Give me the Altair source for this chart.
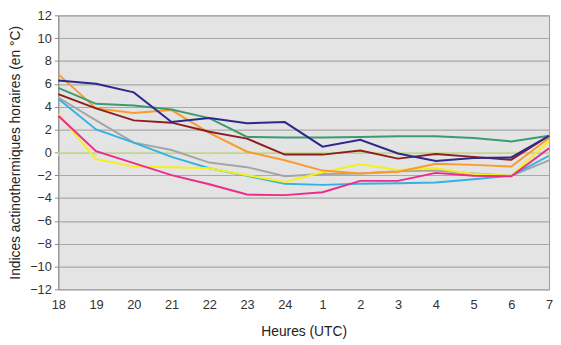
import altair as alt
import pandas as pd

hours = ["18", "19", "20", "21", "22", "23", "24", "1", "2", "3", "4", "5", "6", "7"]

navy = [6.3, 6.0, 5.25, 2.65, 3.0, 2.55, 2.65, 0.5, 1.1, -0.1, -0.75, -0.5, -0.45, 1.45]
green = [5.65, 4.25, 4.1, 3.75, 3.0, 1.35, 1.3, 1.3, 1.35, 1.4, 1.4, 1.25, 0.95, 1.45]
orange = [6.85, 3.85, 3.45, 3.7, 1.7, 0.05, -0.7, -1.6, -1.85, -1.7, -1.0, -1.1, -1.25, 1.25]
brown = [5.1, 3.85, 2.8, 2.6, 1.8, 1.2, -0.2, -0.2, 0.15, -0.55, -0.15, -0.4, -0.65, 1.45]
gray = [4.8, 2.8, 0.85, 0.2, -0.9, -1.3, -2.1, -1.9, -1.85, -1.65, -1.6, -1.85, -2.05, -0.7]
cyan = [4.7, 2.0, 0.85, -0.4, -1.4, -2.05, -2.75, -2.85, -2.75, -2.7, -2.65, -2.35, -2.05, -0.3]
yellow = [3.35, -0.6, -1.25, -1.3, -1.4, -2.0, -2.6, -1.75, -1.05, -1.55, -1.4, -1.9, -2.05, 1.0]
magenta = [3.2, 0.1, -0.95, -2.0, -2.8, -3.7, -3.75, -3.5, -2.5, -2.5, -1.8, -2.05, -2.1, 0.35]

series = {
    "gris": gray,
    "cyan": cyan,
    "jaune": yellow,
    "magenta": magenta,
    "orange": orange,
    "brun": brown,
    "vert": green,
    "bleu": navy,
}
colors = ["#a5a5a5", "#35b3e0", "#f5ef1c", "#ec2b8c", "#f99b2c", "#8e1e1e", "#3c9c70", "#2c2a8e"]

rows = []
for name, vals in series.items():
    for h, v in zip(hours, vals):
        rows.append({"heure": h, "valeur": v, "serie": name})
df = pd.DataFrame(rows)

ticks_df = pd.DataFrame({"heure": hours, "valeur": [0.0] * len(hours), "y1": [-0.35] * len(hours)})
zero_df = pd.DataFrame({"valeur": [0.0]})

font = "Liberation Sans"

x_axis = alt.Axis(
    title="Heures (UTC)",
    labelAngle=0,
    ticks=False,
    domain=False,
    grid=False,
    labelPadding=9,
    titlePadding=14,
    labelFontSize=13,
    titleFontSize=14,
    labelFont=font,
    titleFont=font,
    labelColor="#333333",
    titleColor="#222222",
    titleFontWeight="normal",
)
x_scale = alt.Scale(type="point", padding=0)

y_axis = alt.Axis(
    title="Indices actinothermiques horaires (en °C)",
    values=list(range(-12, 13, 2)),
    labelOverlap=False,
    grid=True,
    gridColor="#a9a9a9",
    gridWidth=1.2,
    domainColor="#8c8c8c",
    tickColor="#8c8c8c",
    tickSize=4,
    labelPadding=3,
    labelFontSize=13,
    titleFontSize=14,
    labelFont=font,
    titleFont=font,
    labelColor="#333333",
    titleColor="#222222",
    titleFontWeight="normal",
    titlePadding=7,
)
y_scale = alt.Scale(domain=[-12, 12], nice=False, zero=False)

lines = alt.Chart(df).mark_line(strokeWidth=2).encode(
    x=alt.X("heure:N", sort=hours, scale=x_scale, axis=x_axis),
    y=alt.Y("valeur:Q", scale=y_scale, axis=y_axis),
    color=alt.Color(
        "serie:N",
        scale=alt.Scale(domain=list(series.keys()), range=colors),
        legend=None,
    ),
)

zero = alt.Chart(zero_df).mark_rule(color="#cfe29a", strokeWidth=1).encode(
    y=alt.Y("valeur:Q", scale=y_scale, axis=y_axis)
)

ticks = alt.Chart(ticks_df).mark_rule(color="#cfe29a", strokeWidth=1).encode(
    x=alt.X("heure:N", sort=hours, scale=x_scale, axis=x_axis),
    y=alt.Y("valeur:Q", scale=y_scale, axis=y_axis),
    y2="y1:Q",
)

chart = (
    alt.layer(zero, ticks, lines)
    .properties(
        width=498,
        height=278,
        autosize=alt.AutoSizeParams(type="none"),
        padding={"left": 51, "top": 5, "right": 4, "bottom": 50},
        background="white",
    )
    .configure_view(fill="#e4e4e4", stroke="#9a9a9a", strokeWidth=1)
)

chart.save("out.html", embed_options={"renderer": "svg", "actions": False})
